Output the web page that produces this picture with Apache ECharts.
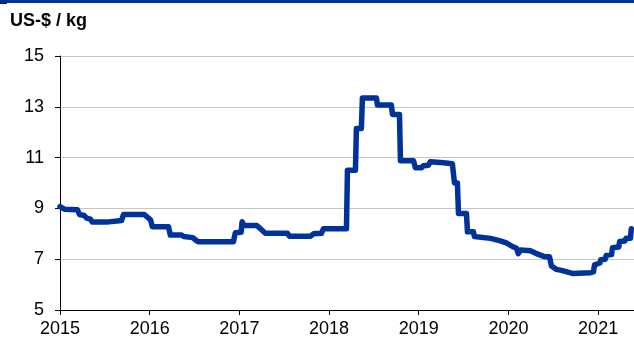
<!DOCTYPE html>
<html>
<head>
<meta charset="utf-8">
<script src="https://cdn.jsdelivr.net/npm/echarts@6/dist/echarts.min.js"></script>
<style>
  html, body { margin: 0; padding: 0; background: #fff; }
  #chart { width: 634px; height: 343px; }
</style>
</head>
<body>
<div id="chart"></div>
<script>
// Price series, decimal year vs. US-$ per kg (weekly quotes, step changes)
const dates = [
  2015.00, 2015.05, 2015.195, 2015.217, 2015.27, 2015.295, 2015.34, 2015.36,
  2015.52, 2015.54, 2015.686, 2015.708, 2015.94, 2016.01, 2016.03, 2016.21,
  2016.23, 2016.355, 2016.38, 2016.48, 2016.51, 2016.54, 2016.934, 2016.955,
  2017.02, 2017.03, 2017.05, 2017.195, 2017.29, 2017.536, 2017.56, 2017.79,
  2017.826, 2017.915, 2017.937, 2018.194, 2018.205, 2018.294, 2018.305, 2018.36,
  2018.372, 2018.528, 2018.539, 2018.695, 2018.707, 2018.785, 2018.796, 2018.941,
  2018.963, 2019.03, 2019.052, 2019.108, 2019.13, 2019.275, 2019.297, 2019.375,
  2019.398, 2019.431, 2019.443, 2019.532, 2019.543, 2019.61, 2019.62, 2019.80,
  2019.91, 2019.977, 2020.044, 2020.09, 2020.11, 2020.134, 2020.245, 2020.30,
  2020.40, 2020.457, 2020.48, 2020.535, 2020.602, 2020.713, 2020.914, 2020.948,
  2020.96, 2021.02, 2021.03, 2021.08, 2021.09, 2021.15, 2021.16, 2021.23,
  2021.24, 2021.30, 2021.31, 2021.36, 2021.37
];
const prices = [
  9.07, 8.97, 8.95, 8.76, 8.72, 8.62, 8.58, 8.46,
  8.46, 8.52, 8.52, 8.76, 8.76, 8.55, 8.28, 8.28,
  7.95, 7.95, 7.89, 7.85, 7.76, 7.69, 7.69, 8.04,
  8.06, 8.47, 8.33, 8.33, 8.02, 8.02, 7.90, 7.90,
  8.00, 8.02, 8.20, 8.20, 10.50, 10.50, 12.15, 12.15,
  13.35, 13.35, 13.07, 13.07, 12.70, 12.70, 10.88, 10.88,
  10.60, 10.60, 10.68, 10.70, 10.84, 10.80, 10.78, 10.76,
  10.00, 10.00, 8.80, 8.80, 8.08, 8.08, 7.89, 7.82,
  7.72, 7.64, 7.50, 7.43, 7.22, 7.36, 7.33, 7.24,
  7.10, 7.10, 6.73, 6.60, 6.55, 6.44, 6.47, 6.50,
  6.78, 6.85, 6.98, 7.00, 7.15, 7.18, 7.45, 7.48,
  7.70, 7.72, 7.82, 7.82, 8.20
];

const unitLabel = 'US-$ / kg';
const xMin = 2015, xMax = 2021.4, xStep = 1;
const yMin = 5, yMax = 15, yStep = 2;

const chart = echarts.init(document.getElementById('chart'), null, { renderer: 'canvas' });

const labelFont = { color: '#000', fontSize: 18, fontFamily: 'Liberation Sans, Arial, sans-serif' };

chart.setOption({
  animation: false,
  backgroundColor: '#fff',
  graphic: [
    { type: 'rect', left: 0, top: 0, shape: { width: 634, height: 3 }, style: { fill: '#003399' } },
    { type: 'rect', left: 0, top: 0, shape: { width: 7, height: 4 }, style: { fill: '#002a80' } },
    {
      type: 'text', left: 10, top: 12,
      style: { text: unitLabel, fill: '#000', font: 'bold 18px "Liberation Sans", Arial, sans-serif' }
    }
  ],
  grid: { left: 60, right: 0, top: 56, bottom: 33, containLabel: false },
  xAxis: {
    type: 'value',
    min: xMin, max: xMax, interval: xStep,
    axisLine: { show: true, lineStyle: { color: '#000', width: 1 } },
    axisTick: { show: true, length: 5, lineStyle: { color: '#000' } },
    axisLabel: Object.assign({ margin: 10, formatter: v => String(Math.round(v)), showMaxLabel: false }, labelFont),
    splitLine: { show: false }
  },
  yAxis: {
    type: 'value',
    min: yMin, max: yMax, interval: yStep,
    axisLine: { show: true, lineStyle: { color: '#000', width: 1 } },
    axisTick: { show: true, length: 5, lineStyle: { color: '#000' } },
    axisLabel: Object.assign({ margin: 16 }, labelFont),
    splitLine: { show: true, lineStyle: { color: '#c6c6c6', width: 1 } }
  },
  series: [{
    type: 'line',
    data: dates.map((d, i) => [d, prices[i]]),
    showSymbol: false,
    lineStyle: { color: '#003399', width: 5.5, join: 'round', cap: 'round' },
    itemStyle: { color: '#003399' },
    clip: false
  }]
});
</script>
</body>
</html>
